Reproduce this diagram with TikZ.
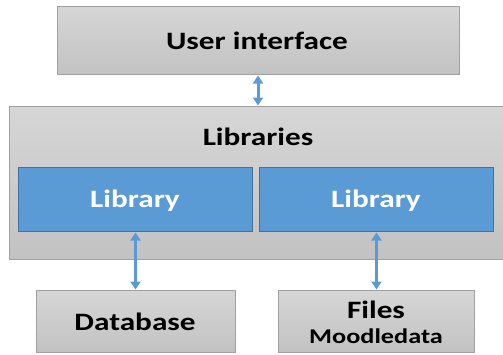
\documentclass[tikz,border=0pt]{standalone}
\usepackage{fontspec}
\setmainfont{Carlito}
\usetikzlibrary{arrows.meta}
\definecolor{libblue}{HTML}{5B9BD5}
\definecolor{libedge}{HTML}{41719C}
\definecolor{grayedge}{HTML}{A0A0A0}
\definecolor{graytop}{HTML}{D6D6D6}
\definecolor{graybot}{HTML}{C2C2C2}
\newcommand{\widetxt}[1]{\scalebox{1.25}[1]{#1}}
\tikzset{
  graybox/.style={draw=grayedge, line width=1pt, top color=graytop, bottom color=graybot, inner sep=0pt},
  bluebox/.style={draw=libedge, line width=1pt, fill=libblue, inner sep=0pt},
  conn/.style={draw=libblue, line width=3pt, {Triangle[width=10pt,length=8pt]}-{Triangle[width=10pt,length=8pt]}, shorten <=0.5pt, shorten >=0.5pt},
  lbl/.style={font=\bfseries\fontsize{25}{28}\selectfont, inner sep=0pt, anchor=base}
}
\begin{document}
\begin{tikzpicture}[x=1pt,y=-1pt]
\useasboundingbox (0,0) rectangle (503,354);
% boxes
\node[graybox, minimum width=402pt, minimum height=68pt, anchor=north west] (ui) at (57,6) {};
\node[graybox, minimum width=500pt, minimum height=153pt, anchor=north west] (libs) at (9,106) {};
\node[bluebox, minimum width=234pt, minimum height=64pt, anchor=north west] (lib1) at (18,167) {};
\node[bluebox, minimum width=234pt, minimum height=64pt, anchor=north west] (lib2) at (259,167) {};
\node[graybox, minimum width=199pt, minimum height=62pt, anchor=north west] (db) at (36,290) {};
\node[graybox, minimum width=196pt, minimum height=62pt, anchor=north west] (files) at (278,290) {};
% labels
\node[lbl] (uitxt) at (257,49) {\widetxt{User interface}};
\node[lbl] (libstxt) at (258,145) {\widetxt{Libraries}};
\node[lbl, text=white] (lib1txt) at (135,207) {\widetxt{Library}};
\node[lbl, text=white] (lib2txt) at (376,207) {\widetxt{Library}};
\node[lbl] (dbtxt) at (135,330) {\widetxt{Database}};
\node[lbl] (filestxt) at (376,318) {\widetxt{Files}};
\node[lbl, font=\bfseries\fontsize{21}{24}\selectfont] (mdtxt) at (376,343) {\widetxt{Moodledata}};
% connectors
\draw[conn] (ui.south -| 258,0) -- (libs.north -| 258,0);
\draw[conn] (lib1.south) -- (db.north -| lib1.south);
\draw[conn] (lib2.south) -- (files.north -| lib2.south);
\end{tikzpicture}
\end{document}
